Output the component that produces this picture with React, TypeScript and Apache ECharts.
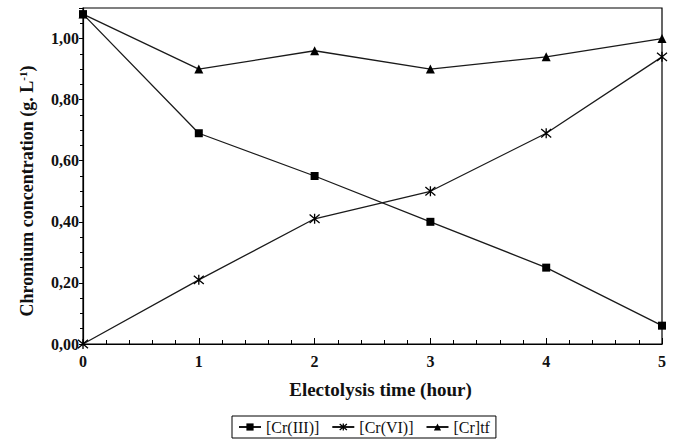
import React, { useEffect, useRef } from "react";
import * as echarts from "echarts";

const hours = [0, 1, 2, 3, 4, 5];
const crIII = [1.08, 0.69, 0.55, 0.4, 0.25, 0.06];
const crVI = [0.0, 0.21, 0.41, 0.5, 0.69, 0.94];
const crTf = [1.08, 0.9, 0.96, 0.9, 0.94, 1.0];
const seriesNames = ["[Cr(III)]", "[Cr(VI)]", "[Cr]tf"];

const asterisk = "path://M0,0L10,10M10,0L0,10M5,-1L5,11";

export default function App() {
  const ref = useRef<HTMLDivElement>(null);
  useEffect(() => {
    if (!ref.current) return;
    const chart = echarts.init(ref.current, null, { renderer: "svg" });
    const font = "Times New Roman, Liberation Serif, serif";
    const pair = (ys: number[]) => hours.map((h, i) => [h, ys[i]]);
    const lineStyle = { color: "#1a1a1a", width: 1.3 };
    const asteriskStyle = { color: "none", borderColor: "#000", borderWidth: 1.3 };
    chart.setOption({
      animation: false,
      backgroundColor: "#fff",
      textStyle: { fontFamily: font },
      grid: {
        left: 83,
        right: 15,
        top: 8,
        bottom: 102,
        show: true,
        borderColor: "#000",
        borderWidth: 1.2,
      },
      xAxis: {
        type: "value",
        min: 0,
        max: 5,
        interval: 1,
        name: "Electolysis time (hour)",
        nameLocation: "middle",
        nameGap: 36,
        nameTextStyle: {
          fontFamily: font,
          fontWeight: "bold",
          fontSize: 19,
          color: "#111",
          padding: [0, 0, 0, 16],
        },
        axisLine: { lineStyle: { color: "#000", width: 1.2 } },
        axisTick: { inside: true, length: 6, lineStyle: { color: "#000" } },
        minorTick: { show: true, splitNumber: 5, length: 4, lineStyle: { color: "#000" } },
        axisLabel: { fontFamily: font, fontWeight: "bold", fontSize: 16, color: "#111", margin: 9 },
        splitLine: { show: false },
      },
      yAxis: {
        type: "value",
        min: 0,
        max: 1.1,
        interval: 0.2,
        name: "{a|Chromium concentration (g. L}{s|-1}{a|)}",
        nameLocation: "middle",
        nameGap: 46,
        nameTextStyle: {
          padding: [0, 30, 0, 0],
          rich: {
            a: { fontFamily: font, fontWeight: "bold", fontSize: 18, color: "#111" },
            s: { fontFamily: font, fontWeight: "bold", fontSize: 11, color: "#111", padding: [0, 0, 9, 0] },
          },
        },
        axisLine: { lineStyle: { color: "#000", width: 1.2 } },
        axisTick: { inside: false, length: 4, lineStyle: { color: "#000" } },
        minorTick: { show: true, splitNumber: 4, length: 3, lineStyle: { color: "#000" } },
        axisLabel: {
          fontFamily: font,
          fontWeight: "bold",
          fontSize: 16,
          color: "#111",
          margin: 4,
          showMaxLabel: false,
          formatter: (v: number) => v.toFixed(2).replace(".", ","),
        },
        splitLine: { show: false },
      },
      legend: {
        top: 416,
        left: 232,
        data: [
          { name: seriesNames[0] },
          { name: seriesNames[1], itemStyle: asteriskStyle },
          { name: seriesNames[2] },
        ],
        borderColor: "#000",
        borderWidth: 1,
        padding: [3, 6, 3, 6],
        itemGap: 12,
        itemWidth: 22,
        itemHeight: 9,
        textStyle: { fontFamily: font, fontSize: 16, color: "#111" },
      },
      series: [
        {
          name: seriesNames[0],
          type: "line",
          data: pair(crIII),
          symbol: "rect",
          symbolSize: 8,
          clip: false,
          lineStyle,
          itemStyle: { color: "#000" },
        },
        {
          name: seriesNames[1],
          type: "line",
          data: pair(crVI),
          symbol: asterisk,
          symbolSize: 10,
          clip: false,
          lineStyle,
          itemStyle: asteriskStyle,
        },
        {
          name: seriesNames[2],
          type: "line",
          data: pair(crTf),
          symbol: "triangle",
          symbolSize: 9,
          clip: false,
          lineStyle,
          itemStyle: { color: "#000" },
        },
      ],
    });
    return () => chart.dispose();
  }, []);
  return (
    <div
      ref={ref}
      style={{ position: "absolute", left: 0, top: 0, width: 677, height: 446 }}
    />
  );
}
